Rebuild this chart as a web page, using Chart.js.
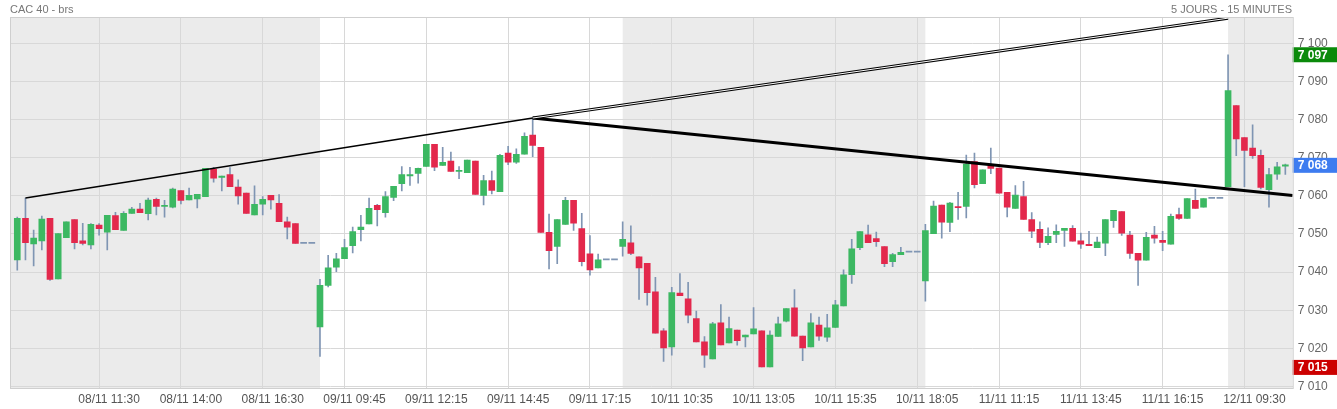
<!DOCTYPE html>
<html><head><meta charset="utf-8">
<script src="https://cdn.jsdelivr.net/npm/chart.js@4"></script>
<style>
html,body{margin:0;padding:0;background:#fff;overflow:hidden;}
#wrap{position:relative;width:1337px;height:409px;}
canvas{position:absolute;left:0;top:0;}
.t{position:absolute;font:11px "Liberation Sans",Arial,sans-serif;color:#777;top:3px;}
</style></head><body>
<div id="wrap"><canvas id="c" width="1337" height="409"></canvas>
<div class="t" style="left:10px">CAC 40 - brs</div>
<div class="t" style="right:45px">5 JOURS - 15 MINUTES</div></div>
<script>
// [open, high, low, close] per 15-min slot
const day1 = [[7043.2,7054.4,7040.5,7054.1],[7054.1,7059.4,7043.2,7047.7],[7047.4,7051.0,7041.6,7048.9],[7048.2,7054.7,7045.8,7053.9],[7054.1,7054.1,7037.8,7038.1],[7038.2,7050.1,7038.2,7050.1],[7049.0,7053.2,7049.0,7053.2],[7053.8,7053.8,7046.1,7047.7],[7048.2,7052.8,7047.1,7047.5],[7047.1,7052.7,7046.1,7052.5],[7052.3,7052.7,7049.7,7051.4],[7050.5,7054.9,7045.8,7054.9],[7054.8,7055.7,7051.1,7051.1],[7050.9,7055.9,7050.9,7055.4],[7055.4,7057.0,7055.4,7056.5],[7056.5,7058.0,7055.6,7055.6],[7055.3,7059.4,7053.7,7058.9],[7059.1,7059.4,7055.0,7057.2],[7057.2,7058.8,7054.4,7057.3],[7057.0,7062.0,7056.8,7061.8],[7061.4,7061.4,7057.9,7058.8],[7058.9,7062.0,7058.9,7060.1],[7059.2,7060.4,7056.8,7060.4],[7059.8,7067.2,7059.8,7067.2],[7067.0,7067.5,7063.6,7064.6],[7064.8,7065.2,7061.3,7065.2],[7065.6,7067.4,7062.4,7062.4],[7062.3,7064.2,7057.8,7060.0],[7060.7,7060.7,7055.4,7055.4],[7055.0,7062.6,7055.0,7057.8],[7057.8,7059.8,7055.0,7059.1],[7060.1,7060.1,7056.5,7058.9],[7058.0,7060.3,7053.2,7053.2],[7053.2,7054.4,7048.7,7051.8],[7052.7,7052.7,7047.5,7047.5],[7047.5,7047.5,7047.5,7047.5],[7047.5,7047.5,7047.5,7047.5]];
const day2 = [[7025.6,7038.1,7017.9,7036.5],[7036.5,7044.4,7036.1,7041.1],[7041.3,7044.9,7040.1,7043.5],[7043.5,7048.6,7043.5,7046.4],[7046.9,7051.8,7045.0,7050.6],[7051.1,7054.9,7048.2,7051.8],[7052.6,7059.4,7052.6,7056.7],[7057.5,7057.8,7052.1,7056.4],[7055.6,7061.1,7054.4,7059.8],[7059.6,7062.5,7058.7,7062.5],[7063.2,7067.7,7061.3,7065.6],[7065.2,7067.5,7062.7,7065.6],[7065.9,7067.3,7063.3,7067.2],[7067.7,7073.5,7067.7,7073.5],[7073.5,7073.5,7066.6,7067.5],[7068.0,7072.7,7068.0,7068.8],[7069.1,7071.5,7066.4,7066.4],[7066.4,7067.7,7064.5,7066.4],[7066.1,7069.4,7066.1,7069.4],[7069.1,7069.1,7060.4,7060.4],[7060.1,7065.4,7057.6,7064.0],[7064.0,7066.5,7060.5,7061.4],[7061.1,7070.9,7061.1,7070.6],[7071.2,7073.0,7068.2,7068.8],[7068.8,7072.3,7068.5,7070.9],[7070.9,7076.5,7070.9,7075.6],[7075.9,7080.4,7070.3,7073.2],[7072.7,7072.7,7050.4,7050.4],[7050.4,7055.2,7040.8,7045.6],[7046.7,7053.8,7042.2,7053.8],[7052.5,7059.6,7052.5,7058.8],[7058.8,7058.8,7050.9,7052.8],[7051.4,7055.4,7041.6,7042.7],[7044.8,7049.6,7039.2,7040.6],[7041.1,7044.7,7041.1,7043.2],[7043.2,7043.2,7043.2,7043.2],[7043.2,7043.2,7043.2,7043.2]];
const day3 = [[7046.7,7053.2,7044.2,7048.6],[7047.7,7052.1,7044.6,7044.9],[7044.0,7044.0,7032.8,7041.1],[7042.3,7042.3,7031.3,7034.6],[7034.8,7038.6,7024.0,7024.0],[7024.6,7025.2,7016.6,7020.1],[7020.4,7036.0,7018.2,7034.6],[7034.5,7039.6,7033.8,7033.8],[7033.0,7037.3,7026.7,7028.7],[7027.8,7029.8,7021.7,7021.7],[7021.7,7023.1,7015.0,7018.2],[7017.2,7026.8,7017.2,7026.4],[7026.7,7031.5,7020.9,7020.9],[7021.4,7028.2,7021.4,7025.2],[7024.8,7024.8,7020.8,7022.0],[7023.0,7023.5,7020.4,7023.5],[7023.8,7030.7,7023.8,7025.1],[7024.6,7024.6,7015.1,7015.1],[7015.1,7024.6,7015.1,7023.5],[7023.1,7028.2,7023.1,7026.4],[7027.1,7030.4,7026.9,7030.4],[7030.6,7035.4,7023.2,7023.2],[7023.2,7023.2,7016.8,7020.1],[7020.4,7029.1,7020.4,7026.7],[7026.1,7028.2,7022.1,7023.2],[7022.9,7028.9,7021.8,7025.4],[7025.5,7032.6,7025.5,7031.4],[7031.1,7040.6,7031.1,7039.3],[7039.3,7048.6,7037.0,7046.1],[7046.4,7050.6,7045.9,7050.6],[7049.8,7052.3,7047.7,7047.7],[7048.8,7050.5,7046.7,7048.0],[7046.7,7046.7,7041.4,7042.2],[7042.7,7044.9,7041.4,7044.6],[7044.6,7046.5,7044.6,7045.2],[7045.2,7045.2,7045.2,7045.2],[7045.2,7045.2,7045.2,7045.2]];
const day4 = [[7037.7,7052.5,7032.4,7050.9],[7050.1,7058.6,7050.1,7057.3],[7057.6,7057.6,7048.9,7053.1],[7053.0,7058.3,7050.6,7058.1],[7057.2,7060.9,7053.8,7056.9],[7057.2,7070.7,7054.2,7068.3],[7069.0,7071.2,7062.1,7062.9],[7063.2,7066.8,7063.2,7066.8],[7067.8,7072.5,7065.8,7067.2],[7067.3,7067.3,7060.7,7060.7],[7060.9,7060.9,7054.5,7057.0],[7056.7,7062.7,7056.7,7060.2],[7059.8,7063.8,7053.8,7053.8],[7053.8,7055.6,7049.0,7050.7],[7051.2,7053.2,7046.4,7047.8],[7047.7,7051.6,7047.2,7049.4],[7049.9,7052.4,7047.7,7050.7],[7050.9,7051.5,7046.7,7051.5],[7051.5,7052.2,7048.1,7048.1],[7048.2,7050.2,7046.2,7047.3],[7047.3,7050.7,7046.9,7046.9],[7046.4,7049.2,7046.4,7047.9],[7047.6,7053.8,7044.3,7053.8],[7053.5,7056.2,7051.7,7056.2],[7055.9,7055.9,7049.6,7050.2],[7049.7,7050.7,7043.6,7044.9],[7044.9,7044.9,7036.5,7043.1],[7043.1,7050.4,7043.1,7049.1],[7049.7,7052.0,7047.6,7048.9],[7048.3,7050.7,7045.6,7047.8],[7047.3,7055.2,7047.3,7054.6],[7055.1,7056.8,7053.8,7054.1],[7054.1,7059.3,7054.1,7059.3],[7058.8,7061.8,7056.7,7056.7],[7057.0,7059.3,7057.0,7059.3],[7059.3,7059.3,7059.3,7059.3],[7059.3,7059.3,7059.3,7059.3]];
const day5 = [[7062.4,7097.0,7062.4,7087.6],[7083.7,7083.7,7070.5,7074.9],[7075.3,7075.3,7062.4,7071.9],[7072.5,7078.6,7069.8,7070.5],[7070.6,7072.0,7061.8,7062.2],[7061.6,7067.2,7057.0,7065.6],[7065.7,7068.8,7064.3,7067.6],[7067.8,7068.3,7065.6,7068.0]];
const tickSlots = [10,20,30,40,50,60,70,80,90,100,110,120,130,140,150];
const tickLabels = ["08/11 11:30","08/11 14:00","08/11 16:30","09/11 09:45","09/11 12:15","09/11 14:45","09/11 17:15","10/11 10:35","10/11 13:05","10/11 15:35","10/11 18:05","11/11 11:15","11/11 13:45","11/11 16:15","12/11 09:30"];
const yTicks = [7010,7020,7030,7040,7050,7060,7070,7080,7090,7100];
const dayStarts = [0,37,74,111,148];
const supportLine = [[1,7059.4],[63,7080.4]];
const resistUpper = [[63,7080.4],[148,7106.6]];
const downLine = [[63,7080.4],[155.9,7060.1]];
const priceTags = [[7097,'#0a8a0a'],[7068,'#3d7cf0'],[7015,'#cc0000']];

const all = [...day1,...day2,...day3,...day4,...day5];
const GREEN='#3cb862', RED='#e3284c', WICK='#7f95b3';
const bodies = all.map((d,i)=>{let lo=Math.min(d[0],d[3]),hi=Math.max(d[0],d[3]);if(hi-lo<0.3){hi=lo+0.3;}return {x:i,y:[lo,hi]};});
const bodyCol = all.map(d=> (d[0]===d[1]&&d[1]===d[2]&&d[2]===d[3])?WICK:(d[3]>=d[0]?GREEN:RED));
const wickData = all.map((d,i)=>(d[1]===d[2])?{x:i,y:null}:{x:i,y:[d[2],d[1]]});
const fmt = v=>String(v).replace(/^(\d)(\d{3})$/,'$1 $2');

const shade = {id:'shade',beforeDraw(ch){const {ctx,chartArea:a,scales:{x}}=ch;ctx.save();ctx.fillStyle='#ebebeb';
  const bands=[[null,dayStarts[1]],[dayStarts[2],dayStarts[3]],[dayStarts[4],null]];
  bands.forEach(([s,e])=>{const x0=s===null?a.left:x.getPixelForValue(s);const x1=e===null?a.right:x.getPixelForValue(e);ctx.fillRect(x0,a.top,x1-x0,a.bottom-a.top);});
  ctx.restore();}};
const tags = {id:'tags',afterDraw(ch){const {ctx,chartArea:a,scales:{y}}=ch;ctx.save();
  priceTags.forEach(([v,c])=>{const py=y.getPixelForValue(v);ctx.fillStyle=c;ctx.fillRect(a.right,py-7.5,46,15);
   ctx.fillStyle='#fff';ctx.font='bold 12px "Liberation Sans", Arial';ctx.textBaseline='middle';ctx.fillText(fmt(v),a.right+5,py+0.5);});
  ctx.strokeStyle='#cfcfcf';ctx.lineWidth=1;ctx.strokeRect(a.left+0.5,a.top+0.5,a.right-a.left,a.bottom-a.top);
  ctx.restore();}};
const lineDs=(pts,w,col,ord)=>({type:'line',data:pts.map(p=>({x:p[0],y:p[1]})),borderColor:col,borderWidth:w,pointRadius:0,order:ord,tension:0});

new Chart(document.getElementById('c'),{
 type:'bar',
 data:{datasets:[
  lineDs(supportLine,1.5,'#000',0),
  lineDs(resistUpper,3,'#000',1),
  lineDs(resistUpper,1,'#fff',0),
  lineDs(downLine,3,'#000',0),
  {data:bodies,backgroundColor:bodyCol,barThickness:6,grouped:false,order:2},
  {data:wickData,backgroundColor:WICK,barThickness:1,grouped:false,order:3}
 ]},
 options:{responsive:false,animation:false,
  plugins:{legend:{display:false},tooltip:{enabled:false}},
  layout:{padding:{left:10,top:17,right:0,bottom:0}},
  scales:{
   x:{type:'linear',min:-0.89,max:155.9,offset:false,
     afterBuildTicks:s=>{s.ticks=tickSlots.map(v=>({value:v}));},
     afterFit:s=>{s.height=21;},
     grid:{color:'#d8d8d8',drawTicks:false,offset:false},border:{display:false},
     ticks:{autoSkip:false,maxRotation:0,padding:4,labelOffset:10,color:'#555',font:{family:'"Liberation Sans", Arial',size:12},
       callback:(v)=>{const k=tickSlots.indexOf(v);return k>=0?tickLabels[k]:'';}}},
   y:{position:'right',min:7009.6,max:7106.9,
     afterBuildTicks:s=>{s.ticks=yTicks.map(v=>({value:v}));},
     afterFit:s=>{s.width=44.3;},
     grid:{color:'#d8d8d8',drawTicks:false},border:{display:false},
     ticks:{padding:5,color:'#666',font:{family:'"Liberation Sans", Arial',size:12},callback:v=>fmt(v)}}
  }},
 plugins:[shade,tags]
});
</script></body></html>
